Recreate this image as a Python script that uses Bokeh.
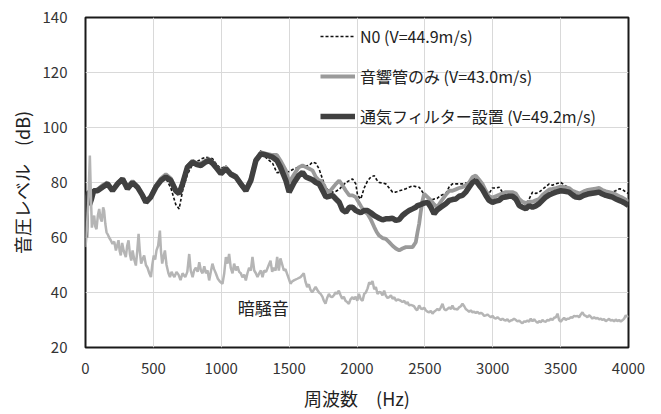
from bokeh.plotting import figure
from bokeh.models import Legend, LegendItem, FixedTicker, ColumnDataSource
from bokeh.core.properties import value
from bokeh.embed import file_html
from bokeh.resources import INLINE

FONT = "Noto Sans CJK JP"

# ---------------- data ----------------
main_hz = [0, 5, 12, 20, 30, 44, 60, 88, 125, 162, 199, 236, 273, 309, 346, 383, 420, 445, 481, 518,
           555, 592, 629, 665, 690, 715, 751, 788, 820, 850, 887, 911, 936, 960, 997, 1034, 1070, 1108,
           1144, 1181, 1218, 1255, 1292, 1330, 1378, 1410, 1436, 1476, 1500, 1537, 1570, 1599, 1623,
           1648, 1672, 1697, 1720, 1734, 1758, 1771, 1795, 1820, 1845, 1869, 1893, 1918, 1943, 1967,
           1991, 2004, 2028, 2053, 2077, 2102, 2127, 2145, 2163, 2188, 2212, 2237, 2262, 2286, 2311,
           2335, 2360, 2384, 2409, 2433, 2446, 2458, 2470, 2483, 2495, 2520, 2544, 2568, 2590, 2617,
           2654, 2680, 2703, 2728, 2752, 2777, 2801, 2826, 2851, 2875, 2900, 2924, 2949, 2973, 2998,
           3022, 3047, 3071, 3096, 3120, 3145, 3170, 3195, 3219, 3244, 3268, 3293, 3317, 3342, 3366,
           3391, 3416, 3440, 3465, 3501, 3530, 3562, 3587, 3612, 3640, 3670, 3700, 3722, 3758, 3783,
           3808, 3833, 3858, 3882, 3906, 3931, 3955, 3980, 4000]

filter_db = [60, 71, 76, 76, 72, 74, 77, 77, 78.3, 79.5, 77, 79.5, 81.3, 77.7, 80, 78.3, 75.3, 72.8, 74.7, 78.3,
             80.7, 82, 80.7, 77, 76, 79.5, 85.6, 87.4, 86.5, 86.2, 87.5, 88, 87, 85.6, 83.2, 85, 83, 82,
             79.5, 77, 80.7, 88, 90.4, 90, 89.2, 88, 85.6, 80.7, 76.5, 80, 82.5, 83.7, 82,
             81.5, 81, 80, 79.5, 78.3, 76, 74.7, 75, 75.3, 74, 72.8, 70, 69.2, 71, 71,
             69.8, 69.5, 69, 69.8, 69.8, 69, 68, 67.5, 67, 66.4, 66.8, 66.8, 67, 66.2, 66.5,
             68, 69, 69.8, 70.4, 71, 71.6, 71.8, 72, 72.3, 72.5, 72.8, 71, 68.6, 70, 71,
             72.3, 73.5, 73.8, 74, 75, 75.3, 76.5, 78.3, 80, 80.7, 79, 77.5, 75.3, 73.5, 72.8,
             73.2, 73.5, 74.5, 74.7, 75, 75, 74, 71.6, 71, 70.4, 71.6, 71, 71.5, 72.3, 73.5,
             74.7, 75.5, 76, 76.5, 77, 76.8, 76.5, 75.5, 74.7, 74.5, 75.3, 75.8, 76, 76.3, 76.5,
             75.8, 75.3, 75, 74.7, 74, 73.5, 73, 72.3, 71.6]

tube_db = [60, 70, 75, 76, 73, 74, 77, 77.5, 79, 80, 77.5, 80, 81.5, 78.5, 80.5, 78.5, 75.5, 73.5, 75, 79,
           81.5, 83, 81.5, 77.5, 76.5, 80, 86, 88, 87, 87, 88, 88.5, 87.5, 86, 84, 85.5, 83.5, 82.5,
           80, 77.5, 81.5, 88.5, 91, 90.5, 90, 90, 88, 84.4, 80, 83, 85.5, 86.2, 85.6,
           85, 84.4, 82, 80.7, 80.7, 79, 77.5, 76.5, 78, 79.5, 80.7, 79, 77, 75.3, 75.3,
           74.7, 73.5, 71.5, 69.5, 68.6, 66.5, 63.8, 62, 60.7, 59.8, 59.5, 58.3, 57, 56, 55.3,
           56, 56.5, 56.5, 56.5, 58.3, 62, 65, 69.5, 73.5, 75.9, 74.7, 73.5, 72, 71, 73,
           75.5, 77, 77, 77.5, 78, 78.3, 79, 80, 82, 82.5, 81, 79.5, 77, 75, 74.5,
           75, 75.5, 76, 76.5, 76.5, 76.5, 76, 74, 73, 72.5, 73, 73, 73.5, 74, 75.5,
           76.5, 77.5, 77.7, 78, 78.5, 78.3, 78, 77, 76.5, 76, 76.8, 77.3, 77.5, 77.8, 78,
           77.3, 76.8, 76.5, 76.2, 75.7, 75, 74.5, 73.8, 73]

n0_db = [62, 72, 76, 77, 72, 75, 77, 77, 78, 80, 77, 79.5, 81, 78, 80, 78, 75, 73, 74.5, 78,
         81, 81.5, 78, 72, 70.4, 77, 83, 86.5, 87.5, 88.5, 89.2, 89, 88.6, 87, 85, 86, 83.5, 82,
         78.5, 76.5, 82, 88.5, 91.6, 89, 87, 83.6, 83.7, 83.7, 84, 85, 85.5, 85.6, 86,
         86.2, 87.4, 87, 85, 83, 79.5, 78, 77, 76.5, 76.8, 77.5, 78.8, 80, 80.7, 81.3,
         79.5, 75.3, 74, 78, 80.5, 82, 82.5, 81, 80, 79.8, 79.5, 78, 76.5, 76.5, 77,
         77.3, 77.7, 78.3, 78.8, 78.5, 78.3, 78.3, 77.5, 76.5, 76, 74.7, 73.5, 74, 74.2, 75.3,
         76, 78.5, 79.5, 79.5, 79.5, 79.5, 79.8, 80, 81, 82, 80.5, 79, 77, 76, 78,
         78, 78.3, 76.5, 75.5, 76, 76.5, 75.5, 73.5, 73, 72, 74, 76.5, 76, 76.5, 77.5,
         78.5, 79.5, 79, 79.5, 80, 79, 78, 74.5, 75, 75.5, 76.5, 77, 77.5, 77.7, 77.5,
         76.8, 76, 76, 76.5, 77, 77.7, 77.5, 76.5, 76]

noise_hz = [0, 6, 12, 20, 32, 40, 47, 55, 64, 72, 81, 91, 101, 110, 120, 130, 137, 146, 155, 165,
            174, 186, 199, 212, 224, 233, 243, 252, 260, 270, 282, 297, 307, 317, 327, 337, 347, 359,
            371, 381, 391, 400, 410, 420, 432, 445, 457, 470, 482, 492, 503, 513, 523, 535, 548, 556,
            565, 575, 585, 597, 611, 622, 634, 641, 655, 670, 685, 700, 715, 735, 750, 764, 775, 789,
            800, 813, 826, 838, 850, 862, 875, 887, 899, 911, 923, 935, 947, 960, 975, 990, 1009, 1022,
            1034, 1046, 1058, 1070, 1083, 1095, 1108, 1120, 1132, 1144, 1156, 1169, 1181, 1193, 1205,
            1218, 1230, 1243, 1255, 1267, 1280, 1292, 1304, 1316, 1330, 1350, 1363, 1375, 1388, 1400,
            1412, 1424, 1436, 1450, 1461, 1473, 1485, 1498, 1510, 1522, 1535, 1560, 1584, 1600, 1608,
            1620, 1633, 1645, 1657, 1670, 1682, 1695, 1707, 1720, 1732, 1745, 1756, 1768, 1780, 1793,
            1805, 1817, 1830, 1842, 1854, 1866, 1879, 1891, 1903, 1915, 1928, 1940, 1952, 1967, 1977,
            1990, 2002, 2014, 2028, 2041, 2053, 2065, 2078, 2090, 2102, 2114, 2127, 2139, 2151, 2163,
            2176, 2188, 2200, 2212, 2225, 2237, 2250, 2262, 2275, 2287, 2300, 2320, 2335, 2348, 2360,
            2372, 2384, 2396, 2407, 2420, 2433, 2443, 2458, 2470, 2483, 2495, 2507, 2520, 2532, 2544,
            2556, 2568, 2581, 2593, 2605, 2617, 2630, 2642, 2654, 2666, 2680, 2692, 2703, 2715, 2728,
            2740, 2752, 2765, 2777, 2790, 2801, 2814, 2826, 2838, 2851, 2863, 2875, 2887, 2900, 2912,
            2924, 2937, 2949, 2961, 2973, 2986, 2998, 3010, 3023, 3035, 3047, 3060, 3072, 3084, 3096,
            3108, 3120, 3133, 3145, 3157, 3170, 3182, 3195, 3207, 3219, 3231, 3243, 3256, 3268, 3280,
            3293, 3305, 3317, 3330, 3342, 3354, 3366, 3378, 3391, 3403, 3416, 3428, 3440, 3452, 3465,
            3477, 3489, 3501, 3514, 3526, 3538, 3550, 3563, 3575, 3587, 3599, 3612, 3624, 3636, 3648,
            3661, 3673, 3685, 3697, 3710, 3722, 3734, 3747, 3759, 3771, 3784, 3796, 3808, 3820, 3833,
            3845, 3857, 3869, 3882, 3894, 3906, 3918, 3931, 3943, 3955, 3967, 3980, 3990, 4000]

noise_db = [56.5, 60, 65, 72, 89.8, 75, 63.6, 66, 68, 64, 63, 68, 70.4, 67, 65.8, 71, 69.8, 65, 61.9, 61,
            60, 59, 57.7, 58.5, 55.3, 57, 59, 55, 53.5, 58, 55, 52.9, 57, 59, 54, 51.6, 55.3, 52,
            49.8, 55, 61.3, 55, 50.5, 52, 53.5, 50, 49, 47, 45.6, 50, 53.5, 52, 55.3, 57, 62.5, 55,
            50.5, 53, 55.3, 50, 47, 45.6, 47.5, 46.8, 45.6, 47.5, 46.5, 44.5, 47, 45.6, 47.5, 54, 48, 45.6,
            48, 49, 47.5, 51, 48, 47, 49.5, 47, 48, 44.4, 47.5, 50.5, 48.5, 47, 45, 44, 43.2, 47,
            52.9, 50.5, 54, 49, 47, 50.5, 48, 49.5, 47.5, 47, 45.5, 46.5, 44.4, 47, 49,
            48, 52.9, 48, 47, 45.6, 47, 48, 45.6, 48, 47.5, 50, 51.6, 47.5, 49, 48,
            52.9, 48, 52.4, 50, 48, 48.5, 46.8, 45, 43.2, 44, 44.4, 45, 45.6, 46.5, 47,
            44, 42, 43, 41, 40.1, 41, 42, 41, 40, 39.5, 38.5, 37, 35.9, 38, 39.5,
            38.5, 38.3, 39, 40, 39.5, 40.7, 39, 37.7, 38.5, 37, 36.5, 35.9, 37.5, 38.3, 37.5,
            38.5, 37, 39.5, 37.5, 37, 39.5, 40, 41.5, 43.7, 43, 44.2, 41.2, 42, 39.5, 40.2,
            40, 39, 40.7, 38.9, 38, 38.3, 39, 37.7, 38.3, 37, 37.5, 37.1, 36.5, 37, 35.9,
            36.5, 35.3, 35.5, 35.3, 35, 34, 33.5, 35.3, 34.2, 34, 34.5, 33.5, 33, 32.8, 33.3,
            32.3, 33, 33.5, 34, 33.5, 34.5, 35.9, 34, 33.5, 34, 34.6, 34, 35.3, 34, 34,
            33.8, 34.6, 35, 35.9, 35, 34, 33.5, 33, 33.5, 32.8, 33, 32.5, 33, 32.3, 32.6,
            32.3, 31.5, 31.7, 32, 31.5, 31, 31.5, 30.8, 30.5, 31, 30.5, 30, 30.5, 30, 29.8,
            30.3, 29.4, 29.8, 30, 30.5, 30, 29.5, 29.8, 29.2, 28.8, 29.5, 29.4, 29.8, 29.4, 30.5,
            29.5, 30.3, 29.5, 29, 29.6, 29.2, 30, 29.5, 29.4, 30, 29.8, 30.5, 30, 30.8, 31,
            32.3, 30, 29.4, 30.2, 30.8, 30, 30.5, 30.5, 31, 30.8, 31.5, 31.3, 31.5, 31, 32,
            32.8, 31.8, 31.5, 31, 31.7, 31.2, 30.5, 31, 30.5, 30.8, 30.2, 30.5, 30, 30.3, 29.6,
            30, 30.4, 29.8, 30, 29.5, 30.2, 29.6, 30, 29.4, 29.9, 30.4, 31.7, 31.2, 31.5]

x_ticks = [0, 500, 1000, 1500, 2000, 2500, 3000, 3500, 4000]
y_ticks = [20, 40, 60, 80, 100, 120, 140]

legend_labels = ["N0 (V=44.9m/s)", "音響管のみ (V=43.0m/s)", "通気フィルター設置 (V=49.2m/s)"]
noise_label = "暗騒音"
noise_label_hz = 1310
noise_label_db = 34.5

x_title = "周波数　(Hz)"
y_title = "音圧レベル　(dB)"

# ---------------- figure ----------------
p = figure(width=661, height=414, x_range=(0, 4000), y_range=(20, 140),
           output_backend="svg", toolbar_location=None,
           min_border_left=85, min_border_right=33, min_border_top=17, min_border_bottom=67)
p.background_fill_color = "white"
p.border_fill_color = "white"
p.outline_line_color = "#1a1a1a"
p.outline_line_width = 2

p.xgrid.grid_line_color = "#d9d9d9"
p.ygrid.grid_line_color = "#d9d9d9"
p.xgrid.grid_line_width = 1
p.ygrid.grid_line_width = 1

p.xaxis.ticker = FixedTicker(ticks=x_ticks)
p.yaxis.ticker = FixedTicker(ticks=y_ticks)
for ax in (p.xaxis[0], p.yaxis[0]):
    ax.axis_line_color = None
    ax.major_tick_line_color = None
    ax.minor_tick_line_color = None
    ax.major_tick_out = 0
    ax.major_tick_in = 0
    ax.major_label_text_font = FONT
    ax.major_label_text_font_size = "15px"
    ax.major_label_text_color = "#333333"
    ax.axis_label_text_font = FONT
    ax.axis_label_text_font_size = "18px"
    ax.axis_label_text_font_style = "normal"
    ax.axis_label_text_color = "#222222"

p.xaxis.axis_label = x_title
p.yaxis.axis_label = y_title
p.xaxis.major_label_standoff = 15
p.yaxis.major_label_standoff = 18
p.xaxis.axis_label_standoff = 8
p.yaxis.axis_label_standoff = 5

main_src = ColumnDataSource(dict(hz=main_hz, n0=n0_db, tube=tube_db, filt=filter_db))
noise_src = ColumnDataSource(dict(hz=noise_hz, db=noise_db))

r_n0 = p.line("hz", "n0", source=main_src, line_color="#111111", line_width=1.6, line_dash="3 2")
r_tube = p.line("hz", "tube", source=main_src, line_color="#9a9a9a", line_width=3.8)
r_filt = p.line("hz", "filt", source=main_src, line_color="#404040", line_width=5.5)
r_noise = p.line("hz", "db", source=noise_src, line_color="#b5b5b5", line_width=2.5)

p.text(x=[noise_label_hz], y=[noise_label_db], text=[noise_label], text_font=value(FONT),
       text_font_size="17px", text_align="center", text_baseline="middle", text_color="#222222")

legend = Legend(items=[LegendItem(label=legend_labels[0], renderers=[r_n0]),
                       LegendItem(label=legend_labels[1], renderers=[r_tube]),
                       LegendItem(label=legend_labels[2], renderers=[r_filt])],
                location=(235, 219))
legend.background_fill_alpha = 0
legend.border_line_color = None
legend.label_text_font = FONT
legend.label_text_font_size = "16px"
legend.label_text_color = "#222222"
legend.glyph_width = 35
legend.glyph_height = 20
legend.label_height = 20
legend.spacing = 16
legend.padding = 0
legend.margin = 0
legend.label_standoff = 5
p.add_layout(legend)

open("out.html", "w").write(file_html(p, INLINE))
